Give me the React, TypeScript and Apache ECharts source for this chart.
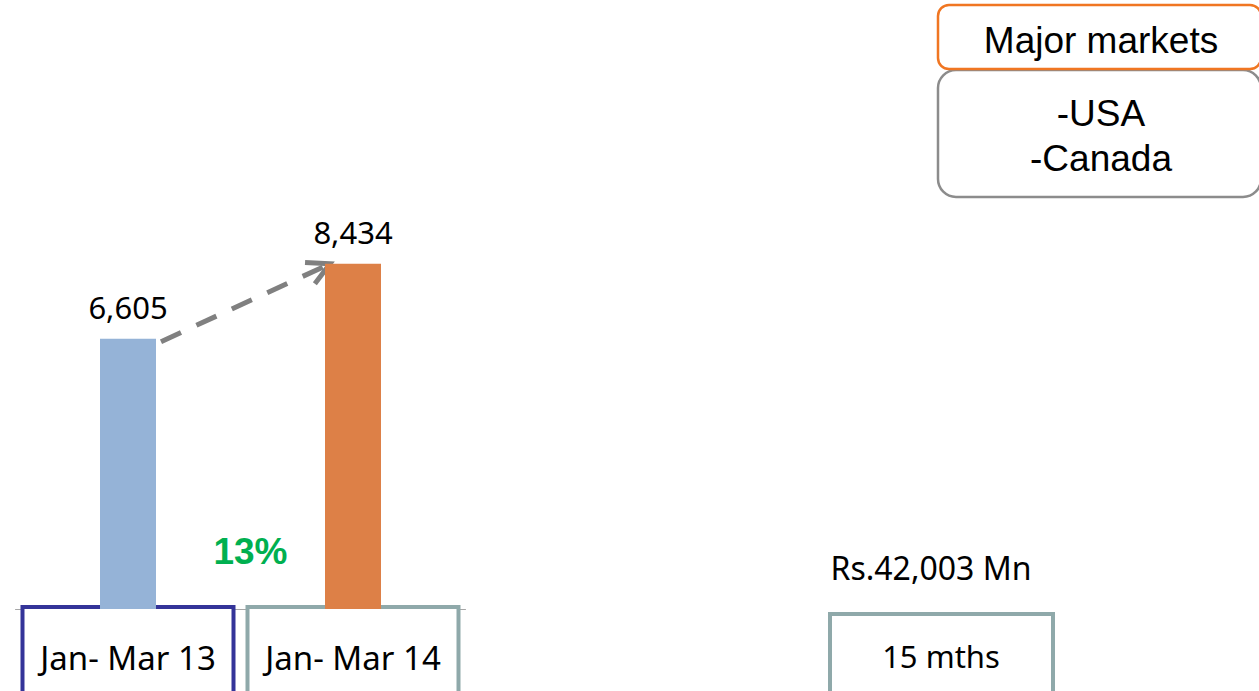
import React, { useEffect, useRef } from "react";
import * as echarts from "echarts";

const categories = ["Jan- Mar 13", "Jan- Mar 14"];
const values = [6605, 8434];
const barColors = ["#95b3d7", "#dd8047"];
const boxColors = ["#343499", "#8fa9aa"];
const growthLabel = "13%";
const marketsTitle = "Major markets";
const markets = ["-USA", "-Canada"];
const totalLabel = "Rs.42,003 Mn";
const periodLabel = "15 mths";

const W = 1259;
const H = 691;

export default function App() {
  const ref = useRef<HTMLDivElement>(null);
  useEffect(() => {
    document.body.style.margin = "0";
    const chart = echarts.init(ref.current!, null, { renderer: "svg" });
    const barWidth = 56;
    chart.setOption({
      animation: false,
      backgroundColor: "#ffffff",
      grid: { left: 15.5, width: 450, top: 36, bottom: 82, containLabel: false, outerBoundsMode: "none" },
      xAxis: {
        type: "category",
        data: categories.map((c, i) => ({ value: c, textStyle: { borderColor: boxColors[i] } })),
        axisTick: { show: false },
        axisLine: { lineStyle: { color: "#a6a6a6", width: 1 } },
        axisLabel: {
          margin: 0,
          interval: 0,
          fontFamily: "Noto Sans",
          fontSize: 33,
          color: "#000",
          backgroundColor: "#fff",
          borderWidth: 4,
          width: 207,
          lineHeight: 40,
          padding: [28, 0, 40, 0],
          align: "center",
        },
      },
      yAxis: { type: "value", min: 0, max: 14000, show: false, splitLine: { show: false } },
      series: [
        {
          type: "bar",
          barWidth,
          data: values.map((v, i) => ({ value: v, itemStyle: { color: barColors[i] } })),
          label: {
            show: true,
            position: "top",
            distance: 16,
            fontFamily: "Noto Sans",
            fontSize: 31,
            color: "#000",
            formatter: (p: any) => Number(p.value).toLocaleString("en-US"),
          },
        },
      ],
    });

    const p1 = chart.convertToPixel({ seriesIndex: 0 }, [0, values[0]]) as number[];
    const p2 = chart.convertToPixel({ seriesIndex: 0 }, [1, values[1]]) as number[];
    const sx = p1[0] + barWidth / 2 + 5;
    const sy = p1[1] + 3;
    const ex = p2[0] - barWidth / 2 + 5;
    const ey = p2[1];
    const ang = Math.atan2(sy - ey, sx - ex);
    const armLen = 25;
    const a1 = ang + (28 * Math.PI) / 180;
    const a2 = ang - (28 * Math.PI) / 180;

    chart.setOption({
      graphic: [
        {
          type: "line",
          shape: { x1: sx, y1: sy, x2: ex - 4 * Math.cos(ang + Math.PI), y2: ey - 4 * Math.sin(ang + Math.PI) },
          style: { stroke: "#808080", lineWidth: 5, lineDash: [22, 17] },
        },
        {
          type: "polyline",
          shape: {
            points: [
              [ex + armLen * Math.cos(a1), ey + armLen * Math.sin(a1)],
              [ex, ey],
              [ex + armLen * Math.cos(a2), ey + armLen * Math.sin(a2)],
            ],
          },
          style: { stroke: "#808080", lineWidth: 5, fill: null, lineJoin: "miter" },
        },
        {
          type: "text",
          x: 250.5,
          y: 551,
          style: {
            text: growthLabel,
            fill: "#00b050",
            font: "bold 37px 'Liberation Sans', Arial, sans-serif",
            align: "center",
            verticalAlign: "middle",
          },
        },
        {
          type: "rect",
          shape: { x: 938, y: 70, width: 323, height: 127, r: 18 },
          style: { fill: "#fff", stroke: "#8c8c8c", lineWidth: 2.5 },
        },
        {
          type: "rect",
          shape: { x: 938, y: 5, width: 323, height: 64, r: 11 },
          style: { fill: "#fff", stroke: "#f07622", lineWidth: 2.5 },
        },
        {
          type: "text",
          x: 1101,
          y: 40,
          style: {
            text: marketsTitle,
            fill: "#000",
            font: "37px 'Liberation Sans', Arial, sans-serif",
            align: "center",
            verticalAlign: "middle",
          },
        },
        ...markets.map((m, i) => ({
          type: "text",
          x: 1101,
          y: 113 + i * 45,
          style: {
            text: m,
            fill: "#000",
            font: "37px 'Liberation Sans', Arial, sans-serif",
            align: "center",
            verticalAlign: "middle",
          },
        })),
        {
          type: "text",
          x: 931,
          y: 567,
          style: {
            text: totalLabel,
            fill: "#000",
            font: "32px 'Noto Sans', sans-serif",
            align: "center",
            verticalAlign: "middle",
          },
        },
        {
          type: "rect",
          shape: { x: 830, y: 614, width: 223, height: 100 },
          style: { fill: "#fff", stroke: "#8fa9aa", lineWidth: 4 },
        },
        {
          type: "text",
          x: 941,
          y: 656,
          style: {
            text: periodLabel,
            fill: "#000",
            font: "31px 'Noto Sans', sans-serif",
            align: "center",
            verticalAlign: "middle",
          },
        },
      ],
    });

    return () => chart.dispose();
  }, []);
  return <div ref={ref} style={{ width: W, height: H, position: "fixed", left: 0, top: 0 }} />;
}
